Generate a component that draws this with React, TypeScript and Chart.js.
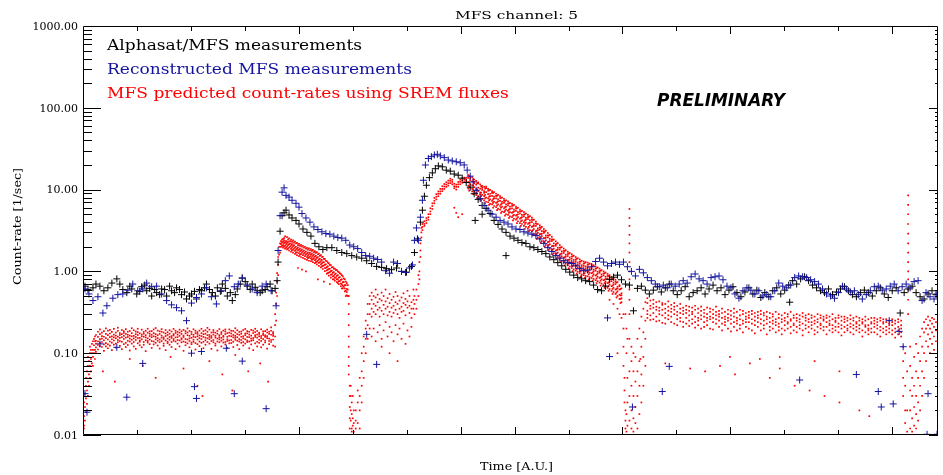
import { useEffect, useRef } from 'react';
import { Chart, registerables } from 'chart.js';

Chart.register(...registerables);

// ---------- text ----------
const titleText = 'MFS channel: 5';
const xTitle = 'Time [A.U.]';
const yTitle = 'Count-rate [1/sec]';
const legendLines = [
  'Alphasat/MFS measurements',
  'Reconstructed MFS measurements',
  'MFS predicted count-rates using SREM fluxes',
];
const stampText = 'PRELIMINARY';

// ---------- axes ----------
const xMin = 0;
const xMax = 859;
const xTickStep = 54.2;
const xTickCount = 15;
const xMajorTicks = [4, 7, 8, 10, 12, 15];
const yMin = 0.01;
const yMax = 1000;
const yDecades = [-2, -1, 0, 1, 2];

// ---------- Alphasat/MFS measurements [time, rate] ----------
const blackQuietEarly = [
  [2, 0.66], [5, 0.6], [10, 0.63], [13, 0.7], [17, 0.66], [21, 0.58], [25, 0.63], [29, 0.72], [34, 0.81], [37, 0.7],
  [40, 0.6], [44, 0.55], [47, 0.66], [49, 0.61], [54, 0.53], [57, 0.57], [59, 0.65], [62, 0.68], [64, 0.58], [67, 0.62],
  [69, 0.5], [72, 0.6], [74, 0.55], [77, 0.52], [79, 0.61], [82, 0.6], [84, 0.5], [87, 0.66], [89, 0.58], [92, 0.55],
  [94, 0.63], [97, 0.6], [99, 0.52], [102, 0.56], [104, 0.46], [107, 0.5], [109, 0.53], [112, 0.57], [114, 0.46], [117, 0.6],
  [119, 0.58], [122, 0.63], [124, 0.7], [127, 0.6], [130, 0.55], [133, 0.5], [135, 0.63], [138, 0.57], [140, 0.7], [143, 0.62],
  [145, 0.5], [148, 0.55], [150, 0.44], [153, 0.52], [155, 0.61], [158, 0.7], [160, 0.83], [163, 0.75], [165, 0.66], [168, 0.6],
  [170, 0.7], [173, 0.64], [175, 0.58], [178, 0.55], [180, 0.58], [183, 0.6], [185, 0.65], [188, 0.7], [190, 0.58], [193, 0.62],
  [195, 0.77],
];
const blackFirstEvent = [
  [196, 1.3], [198, 3.1], [200, 4.8], [202, 5.2], [204, 5.6], [207, 4.9], [210, 4.5], [214, 4.2], [217, 3.8], [221, 3.3],
  [225, 3.0], [229, 2.7], [233, 2.2], [237, 2.0], [241, 1.85], [245, 1.95], [250, 1.95], [255, 1.8], [260, 1.7], [265, 1.65],
  [270, 1.56], [275, 1.5], [280, 1.45], [285, 1.35], [290, 1.25], [295, 1.15], [300, 1.12], [305, 1.08], [310, 1.05], [315, 1.1],
  [320, 1.0], [325, 0.98], [330, 1.15],
];
const blackSecondEvent = [
  [333, 1.7], [336, 2.5], [339, 4.0], [341, 5.6], [343, 8.3], [345, 11.3], [348, 14], [351, 16], [354, 18], [357, 19.5],
  [361, 19], [365, 17.3], [369, 16.8], [373, 15.5], [377, 15], [381, 13.8], [385, 12.2], [389, 10.7], [393, 8.9], [397, 7.6],
  [401, 6.4], [405, 5.9], [409, 5.1], [413, 4.2], [417, 3.75], [421, 3.3], [425, 3.0], [429, 2.7], [433, 2.55], [437, 2.4],
  [441, 2.25], [445, 2.2], [449, 2.0], [453, 1.95], [457, 1.85], [461, 1.75], [465, 1.65], [469, 1.5], [473, 1.39], [477, 1.28],
  [481, 1.17], [485, 1.06], [489, 0.98], [493, 0.9], [497, 0.84], [501, 0.81], [505, 0.77], [509, 0.75], [513, 0.68], [517, 0.6],
  [521, 0.58], [525, 0.66], [529, 0.8], [533, 0.85], [537, 0.9], [541, 0.79], [545, 0.7], [549, 0.68], [553, 0.33], [557, 0.62],
  [394, 4.2], [401, 5.0], [425, 1.56],
];
const blackQuietLate = [
  [561, 0.66], [565, 0.59], [569, 0.53], [573, 0.59], [577, 0.65], [581, 0.56], [585, 0.63], [589, 0.7], [593, 0.58], [597, 0.52],
  [601, 0.58], [605, 0.65], [609, 0.49], [613, 0.55], [617, 0.58], [621, 0.63], [625, 0.53], [629, 0.61], [633, 0.68], [637, 0.58],
  [641, 0.63], [645, 0.52], [649, 0.59], [653, 0.65], [657, 0.55], [661, 0.49], [665, 0.56], [669, 0.63], [673, 0.53], [677, 0.59],
  [681, 0.48], [685, 0.55], [689, 0.49], [693, 0.58], [697, 0.63], [701, 0.53], [705, 0.59], [709, 0.68], [713, 0.77], [717, 0.7],
  [721, 0.81], [725, 0.86], [729, 0.77], [733, 0.68], [737, 0.63], [741, 0.58], [745, 0.55], [749, 0.61], [753, 0.52], [757, 0.56],
  [761, 0.61], [765, 0.65], [769, 0.58], [773, 0.52], [777, 0.49], [781, 0.55], [785, 0.59], [789, 0.55], [793, 0.5], [797, 0.58],
  [801, 0.63], [805, 0.53], [809, 0.48], [813, 0.58], [817, 0.63], [821, 0.31], [825, 0.55], [829, 0.61], [833, 0.66], [837, 0.55],
  [841, 0.49], [845, 0.46], [849, 0.53], [853, 0.58], [857, 0.52], [710, 0.42],
];

// ---------- Reconstructed MFS measurements [time, rate] ----------
const blueQuietEarly = [
  [2, 0.61], [6, 0.53], [10, 0.44], [15, 0.49], [20, 0.31], [24, 0.38], [30, 0.47], [35, 0.52], [40, 0.53], [45, 0.59],
  [50, 0.7], [55, 0.58], [60, 0.61], [64, 0.72], [69, 0.65], [74, 0.66], [79, 0.53], [84, 0.44], [89, 0.39], [94, 0.36],
  [99, 0.33], [104, 0.25], [109, 0.41], [114, 0.48], [119, 0.53], [124, 0.63], [129, 0.49], [134, 0.4], [139, 0.58], [143, 0.77],
  [147, 0.88], [152, 0.65], [156, 0.7], [160, 0.83], [165, 0.68], [170, 0.61], [175, 0.55], [180, 0.66], [184, 0.7], [189, 0.58],
  [194, 0.38],
  [4, 0.019], [2, 0.032], [17, 0.13], [34, 0.118], [44, 0.029], [60, 0.075], [109, 0.1], [112, 0.039], [114, 0.028], [119, 0.105],
  [144, 0.115], [152, 0.032], [160, 0.08], [184, 0.021],
];
const blueFirstEvent = [
  [196, 1.8], [198, 4.8], [200, 9.3], [202, 10.5], [204, 8.5], [207, 8.1], [210, 7.4], [214, 6.8], [217, 6.1], [220, 5.1],
  [224, 4.5], [228, 4.0], [232, 3.5], [236, 3.25], [240, 3.05], [244, 2.9], [248, 2.85], [252, 2.7], [256, 2.6], [260, 2.55],
  [264, 2.4], [268, 2.1], [272, 2.0], [276, 1.9], [280, 1.7], [284, 1.56], [288, 1.53], [292, 1.45], [296, 1.4], [300, 1.3],
  [304, 1.02], [308, 0.95], [312, 1.3], [316, 1.25], [320, 1.0], [324, 0.97], [328, 1.1], [331, 1.2], [333, 2.4], [335, 3.4],
  [285, 0.17], [295, 0.073],
];
const blueSecondEvent = [
  [337, 2.4], [339, 4.6], [341, 7.4], [342, 13], [344, 20], [347, 24], [350, 25.3], [353, 26.5], [356, 27], [359, 25.8],
  [363, 24.6], [367, 23], [371, 22.4], [375, 21.9], [379, 21.3], [383, 20], [386, 17.3], [389, 14.6], [392, 12.4], [395, 9.8],
  [399, 7.8], [403, 6.4], [407, 5.6], [411, 5.0], [415, 4.6], [419, 4.2], [423, 4.0], [427, 3.8], [431, 3.5], [435, 3.3],
  [439, 3.25], [443, 3.05], [447, 2.95], [451, 2.85], [455, 2.74], [459, 2.5], [463, 2.2], [467, 1.95], [471, 1.75], [475, 1.56],
  [479, 1.45], [483, 1.35], [487, 1.28], [491, 1.25], [495, 1.17], [499, 1.08], [503, 1.02], [507, 1.04], [511, 1.14], [515, 1.32],
  [519, 1.45], [523, 1.3], [527, 1.17], [531, 1.25], [535, 1.3], [539, 1.22], [543, 1.3], [547, 1.14], [551, 1.0], [555, 0.88],
  [527, 0.27], [529, 0.091], [552, 0.022],
];
const blueQuietLate = [
  [559, 1.06], [563, 0.96], [567, 0.84], [571, 0.77], [575, 0.7], [579, 0.65], [583, 0.68], [587, 0.63], [591, 0.7], [595, 0.66],
  [599, 0.7], [603, 0.77], [607, 0.72], [611, 0.86], [615, 0.93], [619, 0.81], [623, 0.77], [627, 0.7], [631, 0.84], [635, 0.86],
  [639, 0.88], [643, 0.79], [647, 0.66], [651, 0.63], [655, 0.53], [659, 0.47], [663, 0.58], [667, 0.63], [671, 0.59], [675, 0.53],
  [679, 0.58], [683, 0.5], [687, 0.52], [691, 0.49], [695, 0.58], [699, 0.72], [703, 0.66], [707, 0.63], [711, 0.68], [715, 0.84],
  [719, 0.88], [723, 0.86], [727, 0.84], [731, 0.79], [735, 0.75], [739, 0.7], [743, 0.61], [747, 0.53], [751, 0.5], [755, 0.47],
  [759, 0.55], [763, 0.66], [767, 0.61], [771, 0.56], [775, 0.58], [779, 0.52], [783, 0.46], [787, 0.52], [791, 0.58], [795, 0.65],
  [799, 0.66], [803, 0.59], [807, 0.61], [811, 0.66], [815, 0.7], [819, 0.58], [823, 0.65], [827, 0.7], [831, 0.63], [835, 0.75],
  [839, 0.77], [843, 0.44], [847, 0.55], [851, 0.49], [855, 0.46], [858, 0.53],
  [582, 0.034], [589, 0.069], [720, 0.047], [777, 0.055], [799, 0.034], [802, 0.022], [814, 0.024], [824, 0.12], [810, 0.25], [820, 0.185],
  [849, 0.032], [848, 0.0102], [858, 0.0102],
];

// ---------- MFS predicted count-rates (SREM): rows [time, rate, rate, ...] ----------
const redQuietEarly = [
  [0, 0.011, 0.014, 0.02], [1, 0.012, 0.017, 0.025, 0.013], [2, 0.015, 0.022, 0.032], [3, 0.019, 0.028, 0.04, 0.05],
  [4, 0.024, 0.035, 0.06], [5, 0.03, 0.045, 0.07, 0.09], [6, 0.04, 0.055, 0.08], [7, 0.05, 0.07, 0.1, 0.12],
  [8, 0.06, 0.085, 0.11], [9, 0.075, 0.1, 0.13], [10, 0.09, 0.11, 0.14, 0.07], [11, 0.1, 0.125, 0.15], [12, 0.11, 0.14, 0.16, 0.085],
  [13, 0.142, 0.118, 0.167, 0.131, 0.104], [15, 0.158, 0.126, 0.183, 0.139, 0.111], [17, 0.171, 0.134, 0.149, 0.196, 0.122],
  [19, 0.137, 0.162, 0.119, 0.178, 0.151], [21, 0.186, 0.144, 0.128, 0.159, 0.107], [23, 0.153, 0.172, 0.133, 0.201, 0.121],
  [25, 0.128, 0.166, 0.147, 0.189, 0.115], [27, 0.174, 0.139, 0.157, 0.124, 0.193], [29, 0.161, 0.182, 0.135, 0.148, 0.109],
  [31, 0.143, 0.169, 0.198, 0.127, 0.156], [33, 0.179, 0.152, 0.131, 0.164, 0.117], [35, 0.136, 0.188, 0.159, 0.145, 0.205],
  [37, 0.167, 0.141, 0.176, 0.123, 0.154], [39, 0.192, 0.157, 0.138, 0.171, 0.112], [41, 0.149, 0.177, 0.129, 0.163, 0.186],
  [43, 0.172, 0.134, 0.155, 0.197, 0.119], [45, 0.158, 0.183, 0.142, 0.126, 0.168], [47, 0.139, 0.164, 0.187, 0.151, 0.108],
  [49, 0.176, 0.146, 0.161, 0.202, 0.131], [51, 0.163, 0.191, 0.137, 0.152, 0.121], [53, 0.145, 0.171, 0.158, 0.184, 0.113],
  [55, 0.181, 0.153, 0.132, 0.167, 0.199], [57, 0.154, 0.138, 0.175, 0.143, 0.125], [59, 0.169, 0.194, 0.148, 0.161, 0.118],
  [61, 0.137, 0.159, 0.182, 0.127, 0.173], [63, 0.188, 0.166, 0.144, 0.156, 0.106], [65, 0.152, 0.178, 0.135, 0.199, 0.141],
  [67, 0.173, 0.147, 0.162, 0.129, 0.185], [69, 0.141, 0.186, 0.157, 0.168, 0.116], [71, 0.195, 0.161, 0.139, 0.176, 0.128],
  [73, 0.159, 0.134, 0.171, 0.148, 0.203], [75, 0.166, 0.189, 0.153, 0.124, 0.142], [77, 0.147, 0.172, 0.185, 0.136, 0.114],
  [79, 0.183, 0.155, 0.141, 0.164, 0.197], [81, 0.156, 0.179, 0.131, 0.149, 0.123], [83, 0.174, 0.143, 0.192, 0.162, 0.109],
  [85, 0.138, 0.167, 0.151, 0.181, 0.133], [87, 0.191, 0.158, 0.173, 0.127, 0.146], [89, 0.162, 0.184, 0.137, 0.154, 0.119],
  [91, 0.149, 0.171, 0.198, 0.142, 0.165], [93, 0.177, 0.139, 0.156, 0.188, 0.112], [95, 0.157, 0.182, 0.145, 0.169, 0.131],
  [97, 0.143, 0.163, 0.178, 0.121, 0.194], [99, 0.185, 0.152, 0.136, 0.172, 0.148], [101, 0.164, 0.193, 0.158, 0.139, 0.107],
  [103, 0.136, 0.175, 0.149, 0.186, 0.125], [105, 0.179, 0.147, 0.166, 0.132, 0.201], [107, 0.152, 0.187, 0.141, 0.163, 0.118],
  [109, 0.171, 0.135, 0.182, 0.154, 0.129], [111, 0.146, 0.168, 0.196, 0.138, 0.159], [113, 0.188, 0.157, 0.133, 0.176, 0.111],
  [115, 0.161, 0.181, 0.147, 0.129, 0.172], [117, 0.139, 0.165, 0.189, 0.153, 0.122], [119, 0.176, 0.149, 0.162, 0.199, 0.134],
  [121, 0.158, 0.186, 0.138, 0.171, 0.115], [123, 0.144, 0.173, 0.155, 0.191, 0.127], [125, 0.183, 0.152, 0.137, 0.166, 0.204],
  [127, 0.167, 0.194, 0.148, 0.131, 0.158], [129, 0.141, 0.162, 0.179, 0.154, 0.113], [131, 0.192, 0.145, 0.169, 0.136, 0.181],
  [133, 0.155, 0.178, 0.131, 0.163, 0.124], [135, 0.173, 0.139, 0.187, 0.151, 0.108], [137, 0.148, 0.166, 0.157, 0.197, 0.136],
  [139, 0.181, 0.154, 0.142, 0.172, 0.121], [141, 0.159, 0.189, 0.135, 0.163, 0.147], [143, 0.137, 0.171, 0.184, 0.128, 0.195],
  [145, 0.176, 0.148, 0.159, 0.141, 0.116], [147, 0.163, 0.195, 0.143, 0.178, 0.132], [149, 0.145, 0.161, 0.174, 0.133, 0.188],
  [151, 0.187, 0.156, 0.138, 0.167, 0.119], [153, 0.154, 0.179, 0.163, 0.146, 0.202], [155, 0.171, 0.142, 0.191, 0.126, 0.157],
  [157, 0.139, 0.168, 0.149, 0.182, 0.112], [159, 0.184, 0.159, 0.134, 0.173, 0.145], [161, 0.161, 0.192, 0.152, 0.137, 0.124],
  [163, 0.148, 0.174, 0.166, 0.198, 0.131], [165, 0.175, 0.137, 0.158, 0.143, 0.186], [167, 0.157, 0.183, 0.139, 0.169, 0.115],
  [169, 0.142, 0.164, 0.193, 0.151, 0.128], [171, 0.189, 0.153, 0.144, 0.176, 0.109], [173, 0.166, 0.181, 0.132, 0.158, 0.199],
  [175, 0.138, 0.169, 0.155, 0.187, 0.121], [177, 0.178, 0.146, 0.172, 0.134, 0.161], [179, 0.162, 0.196, 0.141, 0.153, 0.118],
  [181, 0.149, 0.167, 0.185, 0.127, 0.174], [183, 0.186, 0.158, 0.136, 0.165, 0.143], [185, 0.153, 0.179, 0.162, 0.194, 0.114],
  [187, 0.172, 0.141, 0.151, 0.183, 0.129], [189, 0.145, 0.188, 0.168, 0.137, 0.207], [191, 0.181, 0.163, 0.147, 0.172, 0.124],
];
const redFirstEvent = [
  [193, 0.16, 0.22, 0.3, 0.12], [194, 0.4, 0.55, 0.25], [195, 0.75, 0.95, 0.5], [196, 1.2, 1.5, 0.9],
  [197, 1.8, 1.6, 2.0], [198, 2.2, 2.0, 1.7], [199, 2.35, 2.15, 2.0], [200, 2.45, 2.25, 2.05], [201, 2.5, 2.3, 2.1, 1.95],
  [202, 2.4, 2.2, 2.0, 2.55], [204, 2.35, 2.15, 1.95], [206, 2.3, 2.1, 2.45, 1.9], [208, 2.2, 2.0, 2.35],
  [210, 2.15, 1.95, 1.8, 2.3], [212, 2.1, 1.9, 2.25], [214, 2.0, 1.85, 2.2, 1.7], [216, 1.95, 1.8, 2.1, 1.1],
  [218, 1.9, 1.75, 2.05, 1.6], [220, 1.85, 1.7, 2.0, 1.05], [222, 1.8, 1.65, 1.95], [224, 1.75, 1.6, 1.9, 1.0],
  [226, 1.7, 1.55, 1.85, 1.45], [228, 1.68, 1.52, 1.8], [230, 1.65, 1.5, 1.78, 1.38], [232, 1.6, 1.45, 1.72],
  [234, 1.55, 1.4, 1.68, 1.3], [236, 1.5, 1.35, 1.62, 0.8], [238, 1.42, 1.3, 1.55], [240, 1.38, 1.25, 1.5, 1.15],
  [242, 1.3, 1.18, 1.42, 0.75], [244, 1.22, 1.1, 1.35], [246, 1.15, 1.05, 1.28, 0.95], [248, 1.08, 0.98, 1.2, 0.7],
  [250, 1.02, 0.92, 1.12], [252, 0.98, 0.88, 1.08, 0.8], [254, 0.94, 0.84, 1.04], [256, 0.9, 0.8, 1.0, 0.72],
  [258, 0.85, 0.76, 0.95], [260, 0.8, 0.7, 0.9, 0.62], [262, 0.74, 0.65, 0.82], [264, 0.68, 0.58, 0.75, 0.5],
  [266, 0.6, 0.5, 0.68],
];
const redFirstEventFill = [
  [203, 1.9, 2.06, 2.28, 2.68], [205, 1.86, 2.02, 2.23, 2.62], [207, 1.8, 1.96, 2.16, 2.54], [209, 1.74, 1.89, 2.08, 2.45],
  [211, 1.7, 1.84, 2.04, 2.4], [213, 1.64, 1.78, 1.97, 2.32], [215, 1.58, 1.71, 1.89, 2.23], [217, 1.54, 1.67, 1.84, 2.17],
  [219, 1.5, 1.63, 1.8, 2.11], [221, 1.46, 1.58, 1.75, 2.06], [223, 1.42, 1.54, 1.7, 2.0], [225, 1.38, 1.5, 1.65, 1.94],
  [227, 1.35, 1.47, 1.62, 1.91], [229, 1.33, 1.44, 1.59, 1.88], [231, 1.3, 1.41, 1.56, 1.83], [233, 1.26, 1.37, 1.51, 1.77],
  [235, 1.22, 1.32, 1.46, 1.72], [237, 1.17, 1.27, 1.4, 1.65], [239, 1.12, 1.22, 1.34, 1.58], [241, 1.07, 1.17, 1.29, 1.51],
  [243, 1.01, 1.1, 1.21, 1.42], [245, 0.94, 1.03, 1.13, 1.33], [247, 0.89, 0.97, 1.07, 1.25], [249, 0.84, 0.91, 1.01, 1.19],
  [251, 0.8, 0.87, 0.96, 1.13], [253, 0.77, 0.84, 0.92, 1.08], [255, 0.74, 0.8, 0.88, 1.04], [257, 0.7, 0.76, 0.84, 0.98],
  [259, 0.66, 0.71, 0.79, 0.93], [261, 0.62, 0.67, 0.74, 0.87], [263, 0.57, 0.62, 0.68, 0.8], [265, 0.51, 0.56, 0.61, 0.72],
];
const redFirstGap = [
  [267, 0.5, 0.4, 0.3, 0.22, 0.16, 0.12, 0.09, 0.07, 0.055], [268, 0.04, 0.03, 0.022, 0.016, 0.012],
  [269, 0.04, 0.03, 0.02, 0.015], [270, 0.012, 0.011, 0.018, 0.025], [271, 0.013, 0.016, 0.03], [272, 0.011, 0.014, 0.02],
  [274, 0.012, 0.02, 0.015], [276, 0.014, 0.025, 0.035], [278, 0.02, 0.03, 0.05, 0.012], [280, 0.04, 0.06, 0.025, 0.1],
  [282, 0.08, 0.12, 0.05, 0.16], [284, 0.15, 0.2, 0.1, 0.25], [286, 0.22, 0.3, 0.15, 0.4], [288, 0.3, 0.4, 0.2, 0.5],
  [290, 0.35, 0.45, 0.28, 0.55, 0.16], [292, 0.4, 0.32, 0.5, 0.2], [294, 0.38, 0.48, 0.3, 0.6, 0.14],
  [296, 0.42, 0.34, 0.52, 0.18], [298, 0.36, 0.46, 0.28, 0.22], [300, 0.44, 0.33, 0.55, 0.15, 0.12],
  [302, 0.39, 0.5, 0.3, 0.19], [304, 0.43, 0.35, 0.6, 0.24], [306, 0.37, 0.47, 0.29, 0.16],
  [308, 0.41, 0.32, 0.53, 0.21, 0.1], [310, 0.45, 0.36, 0.28, 0.18], [312, 0.38, 0.49, 0.31, 0.14],
  [314, 0.42, 0.34, 0.56, 0.22], [316, 0.4, 0.3, 0.5, 0.17, 0.08], [318, 0.44, 0.35, 0.27, 0.2],
  [320, 0.37, 0.48, 0.32, 0.15], [322, 0.41, 0.33, 0.54, 0.23], [324, 0.39, 0.46, 0.29, 0.13],
  [326, 0.43, 0.36, 0.58, 0.19], [328, 0.38, 0.31, 0.5, 0.16], [330, 0.42, 0.35, 0.27, 0.21], [332, 0.45, 0.6, 0.35],
];
const redSecondRise = [
  [333, 0.3, 0.4, 0.5], [335, 0.45, 0.6, 0.35], [337, 0.5, 0.7, 0.9], [338, 1.0, 1.3, 0.8], [339, 1.5, 1.8, 2.2],
  [340, 2.6, 3.0, 3.4], [341, 3.5, 3.8, 3.2], [343, 3.8, 4.1, 3.6], [345, 4.2, 4.5, 3.9], [347, 4.6, 5.0, 4.3],
  [349, 5.4, 5.9, 5.0], [351, 6.3, 6.8, 5.8], [353, 7.3, 7.9, 6.8], [355, 8.2, 8.8, 7.6], [357, 8.9, 9.5, 8.3],
  [359, 9.5, 10.2, 8.9], [361, 10.2, 11.0, 9.6], [363, 10.9, 11.7, 10.2], [365, 11.5, 12.3, 10.8], [367, 12.0, 12.9, 11.2],
  [369, 12.8, 13.6, 12.0], [371, 12.4, 11.6, 13.2], [373, 11.0, 10.4, 11.8, 6.0], [375, 10.8, 10.0, 11.5, 5.2],
  [377, 11.6, 10.8, 12.4, 4.6], [379, 12.4, 11.6, 13.2], [381, 12.9, 12.1, 13.8, 5.0], [383, 13.2, 12.4, 14.0],
  [385, 13.1, 12.3, 13.9],
];
const redSecondDecay = [
  [387, 13.9, 11.2, 15.1, 12.4, 10.3], [389, 12.9, 10.6, 14.3, 11.7, 13.6], [391, 10.2, 12.6, 11.3, 14.1, 9.5],
  [393, 11.9, 9.4, 13.3, 10.7, 12.4], [395, 9.1, 11.5, 12.8, 10.1, 8.6], [397, 10.6, 8.3, 11.9, 9.6, 12.3],
  [399, 8.1, 10.3, 9.2, 11.6, 8.8], [401, 9.9, 7.7, 11.1, 8.6, 10.5], [403, 7.4, 9.6, 10.8, 8.3, 9.1],
  [405, 9.3, 7.1, 10.4, 8.0, 10.9], [407, 7.0, 8.8, 9.7, 7.8, 10.2], [409, 8.9, 6.7, 9.9, 7.6, 8.3],
  [411, 6.6, 8.4, 9.6, 7.3, 9.1], [413, 8.2, 6.3, 9.3, 7.1, 7.8], [415, 6.1, 7.8, 8.9, 6.9, 8.4],
  [417, 7.6, 5.8, 8.6, 6.6, 7.2], [419, 5.7, 7.3, 8.3, 6.3, 7.9], [421, 7.1, 5.4, 8.0, 6.2, 6.8],
  [423, 5.3, 6.9, 7.7, 5.9, 7.3], [425, 6.6, 5.0, 7.4, 5.7, 6.2], [427, 4.9, 6.4, 7.2, 5.5, 6.8],
  [429, 6.2, 4.7, 6.9, 5.3, 5.8], [431, 4.6, 5.9, 6.7, 5.2, 6.3], [433, 5.7, 4.4, 6.5, 4.9, 5.4],
  [435, 4.3, 5.5, 6.2, 4.8, 5.9], [437, 5.3, 4.1, 6.0, 4.6, 5.0], [439, 3.9, 5.1, 5.7, 4.4, 5.4],
  [441, 4.9, 3.8, 5.5, 4.2, 4.6], [443, 3.6, 4.7, 5.3, 4.0, 4.95], [445, 4.5, 3.5, 5.1, 3.95, 4.3],
  [447, 3.35, 4.35, 4.9, 3.8, 4.6], [449, 4.2, 3.2, 4.75, 3.65, 3.95], [451, 3.1, 4.0, 4.55, 3.5, 4.3],
  [453, 3.8, 2.9, 4.3, 3.3, 3.6], [455, 2.75, 3.6, 4.05, 3.1, 3.85], [457, 3.35, 2.6, 3.8, 2.95, 3.2],
  [459, 2.5, 3.25, 3.65, 2.85, 3.45], [461, 3.1, 2.35, 3.5, 2.7, 2.9], [463, 2.25, 2.95, 3.3, 2.55, 3.1],
  [465, 2.75, 2.1, 3.15, 2.4, 2.6], [467, 2.0, 2.6, 2.95, 2.28, 2.75], [469, 2.5, 1.9, 2.8, 2.15, 2.35],
  [471, 1.8, 2.35, 2.65, 2.03, 2.45], [473, 2.2, 1.67, 2.45, 1.9, 2.05], [475, 1.6, 2.06, 2.33, 1.8, 2.15],
  [477, 1.95, 1.5, 2.22, 1.7, 1.85], [479, 1.42, 1.85, 2.1, 1.6, 1.95], [481, 1.76, 1.35, 1.98, 1.53, 1.66],
  [483, 1.3, 1.68, 1.9, 1.47, 1.78], [485, 1.6, 1.24, 1.82, 1.4, 1.52], [487, 1.19, 1.54, 1.74, 1.35, 1.63],
  [489, 1.48, 1.15, 1.68, 1.3, 1.4], [491, 1.1, 1.43, 1.62, 1.25, 1.52], [493, 1.38, 1.06, 1.56, 1.2, 1.3],
  [495, 1.02, 1.33, 1.5, 1.16, 1.4], [497, 1.28, 0.99, 1.45, 1.12, 1.21], [499, 0.95, 1.24, 1.4, 1.08, 1.31],
  [501, 1.19, 0.92, 1.35, 1.04, 1.13], [503, 0.9, 1.17, 1.32, 1.02, 1.24], [505, 1.15, 0.88, 1.3, 1.0, 1.09],
  [507, 0.87, 1.13, 1.28, 0.98, 1.2], [509, 1.1, 0.85, 1.25, 0.96, 1.05], [511, 0.83, 1.09, 1.22, 0.95, 1.15],
  [513, 1.05, 0.81, 1.19, 0.92, 1.0], [515, 0.78, 1.02, 1.15, 0.89, 1.08], [517, 0.99, 0.76, 1.12, 0.86, 0.94],
  [519, 0.73, 0.96, 1.08, 0.83, 1.01], [521, 0.92, 0.71, 1.04, 0.8, 0.87], [523, 0.68, 0.89, 1.0, 0.78, 0.94],
  [525, 0.86, 0.66, 0.97, 0.75, 0.81], [527, 0.63, 0.82, 0.93, 0.72, 0.88], [529, 0.79, 0.61, 0.9, 0.69, 0.75],
  [531, 0.58, 0.76, 0.86, 0.66, 0.81], [533, 0.73, 0.56, 0.82, 0.63, 0.69], [535, 0.53, 0.7, 0.79, 0.6, 0.75],
  [537, 0.65, 0.5, 0.74, 0.57, 0.62], [539, 0.46, 0.6, 0.68, 0.52, 0.66], [541, 0.54, 0.42, 0.62, 0.47, 0.51],
  [529, 0.45], [533, 0.4], [537, 0.35], [539, 0.3], [541, 0.27],
];
const redSecondDecayFill = [
  [388, 11.0, 12.2, 14.6, 9.7], [392, 10.1, 11.1, 13.3, 8.8], [396, 9.0, 10.0, 12.0, 7.9], [400, 8.3, 9.2, 11.0, 7.3],
  [404, 7.8, 8.6, 10.3, 6.8], [408, 7.4, 8.2, 9.8, 6.5], [412, 6.9, 7.6, 9.1, 6.0], [416, 6.4, 7.0, 8.4, 5.6],
  [420, 6.0, 6.6, 7.9, 5.2], [424, 5.5, 6.1, 7.3, 4.8], [428, 5.2, 5.7, 6.8, 4.5], [432, 4.8, 5.3, 6.4, 4.2],
  [436, 4.45, 4.9, 5.9, 3.9], [440, 4.1, 4.5, 5.4, 3.6], [444, 3.8, 4.2, 5.0, 3.3], [448, 3.5, 3.9, 4.65, 3.1],
  [452, 3.2, 3.55, 4.25, 2.8], [456, 2.85, 3.15, 3.8, 2.5], [460, 2.6, 2.85, 3.4, 2.25], [464, 2.3, 2.55, 3.05, 2.0],
  [468, 2.1, 2.3, 2.75, 1.83], [472, 1.85, 2.05, 2.45, 1.62], [476, 1.65, 1.82, 2.18, 1.44], [480, 1.48, 1.63, 1.96, 1.3],
  [484, 1.34, 1.49, 1.78, 1.18], [488, 1.25, 1.38, 1.65, 1.09], [492, 1.16, 1.28, 1.53, 1.01], [496, 1.07, 1.18, 1.42, 0.94],
  [500, 1.0, 1.1, 1.32, 0.87], [504, 0.95, 1.05, 1.26, 0.83], [508, 0.92, 1.01, 1.22, 0.8], [512, 0.88, 0.97, 1.16, 0.77],
  [516, 0.82, 0.91, 1.09, 0.72], [520, 0.77, 0.85, 1.02, 0.67], [524, 0.72, 0.79, 0.95, 0.63], [528, 0.66, 0.73, 0.88, 0.58],
  [532, 0.61, 0.67, 0.81, 0.53], [536, 0.55, 0.61, 0.73, 0.48], [540, 0.46, 0.51, 0.61, 0.41],
];
const redSecondGap = [
  [543, 0.3, 0.2, 0.12, 0.07], [544, 0.05, 0.035, 0.025], [545, 0.02, 0.015, 0.012, 0.3], [546, 0.011, 0.018, 0.2, 0.1],
  [547, 0.013, 0.025, 0.05, 0.15],
  [549, 5.8, 4.5, 3.6, 2.8, 2.2, 1.7, 1.3, 1.0, 0.8, 0.6, 0.45, 0.3, 0.15, 0.06, 0.03, 0.015],
  [551, 0.012, 0.02, 0.04, 0.08, 0.12], [553, 0.011, 0.016, 0.03, 0.06, 0.1], [555, 0.014, 0.022, 0.045, 0.09],
  [557, 0.012, 0.03, 0.06, 0.15], [559, 0.018, 0.04, 0.08, 0.2], [561, 0.025, 0.055, 0.12, 0.28],
  [563, 0.04, 0.09, 0.18, 0.35], [565, 0.07, 0.15, 0.25, 0.42],
];
const redQuietLate = [
  [567, 0.47, 0.33, 0.41, 0.27, 0.3], [570, 0.38, 0.44, 0.29, 0.35, 0.255], [573, 0.31, 0.45, 0.36, 0.26, 0.4],
  [576, 0.42, 0.28, 0.34, 0.37, 0.245], [579, 0.36, 0.3, 0.43, 0.25, 0.33], [582, 0.29, 0.39, 0.34, 0.41, 0.235],
  [585, 0.4, 0.27, 0.35, 0.31, 0.23], [588, 0.33, 0.37, 0.26, 0.43, 0.29], [591, 0.28, 0.35, 0.39, 0.24, 0.32],
  [594, 0.37, 0.3, 0.23, 0.34, 0.41], [597, 0.32, 0.26, 0.38, 0.29, 0.22], [600, 0.35, 0.4, 0.27, 0.31, 0.245],
  [603, 0.3, 0.24, 0.36, 0.33, 0.21], [606, 0.27, 0.38, 0.31, 0.23, 0.34], [609, 0.33, 0.29, 0.25, 0.37, 0.215],
  [612, 0.36, 0.26, 0.3, 0.23, 0.32], [615, 0.28, 0.34, 0.24, 0.38, 0.205], [618, 0.31, 0.22, 0.35, 0.27, 0.25],
  [621, 0.26, 0.33, 0.29, 0.2, 0.37], [624, 0.34, 0.24, 0.28, 0.31, 0.21], [627, 0.27, 0.36, 0.22, 0.3, 0.25],
  [630, 0.32, 0.26, 0.35, 0.2, 0.28], [633, 0.24, 0.3, 0.27, 0.34, 0.195], [636, 0.29, 0.37, 0.23, 0.26, 0.32],
  [639, 0.33, 0.25, 0.21, 0.28, 0.3], [642, 0.27, 0.23, 0.35, 0.19, 0.31], [645, 0.26, 0.32, 0.28, 0.22, 0.24],
  [648, 0.3, 0.2, 0.34, 0.25, 0.27], [651, 0.23, 0.29, 0.26, 0.33, 0.185], [654, 0.31, 0.24, 0.21, 0.28, 0.35],
  [657, 0.27, 0.32, 0.19, 0.25, 0.23], [660, 0.22, 0.29, 0.34, 0.26, 0.2], [663, 0.3, 0.25, 0.23, 0.33, 0.18],
  [666, 0.26, 0.21, 0.31, 0.28, 0.24], [669, 0.24, 0.32, 0.2, 0.27, 0.29], [672, 0.33, 0.23, 0.26, 0.19, 0.3],
  [675, 0.28, 0.22, 0.31, 0.25, 0.175], [678, 0.21, 0.27, 0.24, 0.32, 0.29], [681, 0.26, 0.3, 0.19, 0.23, 0.33],
  [684, 0.29, 0.2, 0.25, 0.31, 0.22], [687, 0.23, 0.28, 0.32, 0.17, 0.26], [690, 0.31, 0.24, 0.21, 0.27, 0.19],
  [693, 0.25, 0.2, 0.3, 0.23, 0.28], [696, 0.22, 0.32, 0.26, 0.18, 0.24], [699, 0.27, 0.23, 0.19, 0.3, 0.21],
  [702, 0.2, 0.26, 0.29, 0.24, 0.17], [705, 0.31, 0.22, 0.25, 0.19, 0.27], [708, 0.24, 0.28, 0.2, 0.3, 0.23],
  [711, 0.21, 0.26, 0.32, 0.175, 0.25], [714, 0.29, 0.19, 0.23, 0.27, 0.22], [717, 0.25, 0.3, 0.21, 0.18, 0.27],
  [720, 0.22, 0.24, 0.29, 0.2, 0.26], [723, 0.28, 0.19, 0.23, 0.31, 0.165], [726, 0.2, 0.27, 0.25, 0.22, 0.29],
  [729, 0.24, 0.3, 0.18, 0.26, 0.21], [732, 0.27, 0.22, 0.2, 0.29, 0.24], [735, 0.19, 0.25, 0.28, 0.23, 0.17],
  [738, 0.3, 0.21, 0.26, 0.18, 0.24], [741, 0.23, 0.27, 0.2, 0.29, 0.22], [744, 0.25, 0.19, 0.28, 0.21, 0.26],
  [747, 0.21, 0.29, 0.24, 0.17, 0.27], [750, 0.28, 0.22, 0.19, 0.25, 0.23], [753, 0.2, 0.26, 0.3, 0.22, 0.18],
  [756, 0.24, 0.21, 0.27, 0.19, 0.25], [759, 0.27, 0.18, 0.23, 0.29, 0.21], [762, 0.22, 0.25, 0.2, 0.28, 0.165],
  [765, 0.26, 0.21, 0.24, 0.18, 0.28], [768, 0.19, 0.27, 0.22, 0.25, 0.2], [771, 0.23, 0.29, 0.18, 0.21, 0.26],
  [774, 0.27, 0.2, 0.25, 0.17, 0.22], [777, 0.21, 0.24, 0.28, 0.19, 0.23], [780, 0.25, 0.18, 0.22, 0.27, 0.2],
  [783, 0.19, 0.26, 0.23, 0.16, 0.24], [786, 0.28, 0.21, 0.18, 0.25, 0.22], [789, 0.22, 0.19, 0.26, 0.2, 0.17],
  [792, 0.24, 0.27, 0.2, 0.23, 0.18], [795, 0.18, 0.23, 0.25, 0.21, 0.27], [798, 0.26, 0.2, 0.17, 0.24, 0.22],
  [801, 0.21, 0.25, 0.19, 0.27, 0.16], [804, 0.23, 0.18, 0.26, 0.2, 0.24], [807, 0.19, 0.24, 0.21, 0.17, 0.26],
  [810, 0.25, 0.2, 0.23, 0.18, 0.22], [813, 0.22, 0.26, 0.17, 0.24, 0.19], [816, 0.18, 0.23, 0.25, 0.2, 0.155],
  [819, 0.24, 0.19, 0.21, 0.26, 0.17], [822, 0.2, 0.22, 0.18, 0.25, 0.16],
];
const redLateGap = [
  [824, 0.12, 0.08, 0.05, 0.03], [826, 0.02, 0.014, 0.04, 0.1], [828, 0.011, 0.02, 0.06],
  [829, 8.5, 6.5, 5.0, 3.8, 2.9, 2.2, 1.7, 1.3, 1.0, 0.8, 0.6, 0.45, 0.3],
  [831, 0.012, 0.02, 0.035, 0.07, 0.12], [833, 0.011, 0.016, 0.03, 0.05], [835, 0.013, 0.022, 0.04, 0.09],
  [837, 0.012, 0.018, 0.03, 0.06, 0.13], [839, 0.015, 0.025, 0.05, 0.1], [841, 0.02, 0.04, 0.08, 0.16],
  [843, 0.03, 0.06, 0.12, 0.2], [845, 0.05, 0.1, 0.18, 0.24], [847, 0.08, 0.14, 0.2, 0.26], [849, 0.12, 0.17, 0.22, 0.28],
  [851, 0.1, 0.15, 0.2, 0.25], [853, 0.13, 0.18, 0.23, 0.27], [855, 0.11, 0.16, 0.21, 0.26], [857, 0.14, 0.19, 0.24],
];
const redSparse = [
  [20, 0.06], [32, 0.045], [47, 0.085], [60, 0.07], [73, 0.05], [88, 0.09], [101, 0.065], [115, 0.04], [120, 0.03], [127, 0.08],
  [140, 0.055], [150, 0.035], [153, 0.095], [166, 0.06], [178, 0.075], [186, 0.045],
  [537, 0.1], [560, 0.085], [585, 0.075], [610, 0.065], [625, 0.06], [640, 0.07], [650, 0.09], [655, 0.055], [670, 0.075],
  [680, 0.085], [690, 0.05], [700, 0.065], [700, 0.09], [715, 0.04], [730, 0.035], [735, 0.08], [745, 0.03], [760, 0.025],
  [760, 0.06], [780, 0.02], [790, 0.017],
];

const BLACK = '#000000';
const BLUE = '#1414a0';
const RED = '#ff0000';
const SERIF = '"DejaVu Serif", serif';

const toPairs = (rows: number[][]) => rows.flatMap((r) => r.slice(1).map((v) => [r[0], v]));

function drawStretched(ctx: CanvasRenderingContext2D, text: string, x: number, y: number, sx: number, font: string, color: string) {
  ctx.save();
  ctx.font = font;
  ctx.fillStyle = color;
  ctx.textAlign = 'left';
  ctx.textBaseline = 'alphabetic';
  ctx.translate(x, y);
  ctx.scale(sx, 1);
  ctx.fillText(text, 0, 0);
  ctx.restore();
}

function fitScale(ctx: CanvasRenderingContext2D, text: string, font: string, width: number) {
  ctx.save();
  ctx.font = font;
  const w = ctx.measureText(text).width;
  ctx.restore();
  return width / w;
}

const framePlugin = {
  id: 'idlFrame',
  afterDatasetsDraw(chart: any) {
    const { ctx, chartArea: a, scales } = chart;
    const xs = scales.x;
    const ys = scales.y;
    ctx.save();
    ctx.strokeStyle = BLACK;
    ctx.lineWidth = 1;
    ctx.beginPath();
    ctx.rect(a.left + 0.5, a.top + 0.5, a.right - a.left - 1, a.bottom - a.top - 1);
    ctx.stroke();
    ctx.beginPath();
    for (let k = 1; k <= xTickCount; k++) {
      const px = Math.round(xs.getPixelForValue(k * xTickStep)) + 0.5;
      if (px >= a.right - 1) continue;
      const len = xMajorTicks.includes(k) ? 8 : 5;
      ctx.moveTo(px, a.bottom);
      ctx.lineTo(px, a.bottom - len);
      ctx.moveTo(px, a.top);
      ctx.lineTo(px, a.top + len);
    }
    for (const e of yDecades) {
      for (let m = 1; m <= 9; m++) {
        const v = m * Math.pow(10, e);
        const py = Math.round(ys.getPixelForValue(v)) + 0.5;
        const lenL = m === 1 ? 18 : 9;
        const lenR = m === 1 ? 9 : 3;
        ctx.moveTo(a.left, py);
        ctx.lineTo(a.left + lenL, py);
        ctx.moveTo(a.right, py);
        ctx.lineTo(a.right - lenR, py);
      }
    }
    ctx.stroke();
    ctx.restore();
  },
  afterDraw(chart: any) {
    const ctx: CanvasRenderingContext2D = chart.ctx;
    const tFont = `11px ${SERIF}`;
    drawStretched(ctx, titleText, 455, 19, fitScale(ctx, titleText, tFont, 123), tFont, BLACK);
    const xFont = `11.5px ${SERIF}`;
    drawStretched(ctx, xTitle, 480, 470, fitScale(ctx, xTitle, xFont, 73), xFont, BLACK);
    const yFont = `11px ${SERIF}`;
    ctx.save();
    ctx.translate(21, 285);
    ctx.rotate(-Math.PI / 2);
    drawStretched(ctx, yTitle, 0, 0, fitScale(ctx, yTitle, yFont, 117), yFont, BLACK);
    ctx.restore();
    const lFont = `14px ${SERIF}`;
    const ls = fitScale(ctx, legendLines[0], lFont, 255);
    const colors = [BLACK, BLUE, RED];
    const bases = [50, 74, 98];
    legendLines.forEach((t, i) => drawStretched(ctx, t, 107, bases[i], ls, lFont, colors[i]));
    const pFont = 'italic bold 17px "DejaVu Sans", sans-serif';
    drawStretched(ctx, stampText, 657, 106, fitScale(ctx, stampText, pFont, 128), pFont, BLACK);
  },
};

export default function App() {
  const ref = useRef<HTMLCanvasElement | null>(null);
  useEffect(() => {
    if (!ref.current) return;
    const blackAll = [...blackQuietEarly, ...blackFirstEvent, ...blackSecondEvent, ...blackQuietLate];
    const blueAll = [...blueQuietEarly, ...blueFirstEvent, ...blueSecondEvent, ...blueQuietLate];
    const redAll = [
      ...toPairs(redQuietEarly), ...toPairs(redFirstEvent), ...toPairs(redFirstEventFill), ...toPairs(redFirstGap),
      ...toPairs(redSecondRise), ...toPairs(redSecondDecay), ...toPairs(redSecondDecayFill), ...toPairs(redSecondGap),
      ...toPairs(redQuietLate), ...toPairs(redLateGap), ...redSparse,
    ];
    const chart = new Chart(ref.current, {
      type: 'scatter',
      data: {
        datasets: [
          { label: legendLines[1], data: blueAll as any, pointStyle: 'cross', pointRadius: 3.5, borderColor: BLUE, backgroundColor: BLUE, borderWidth: 1 },
          { label: legendLines[0], data: blackAll as any, pointStyle: 'cross', pointRadius: 3.5, borderColor: BLACK, backgroundColor: BLACK, borderWidth: 1 },
          { label: legendLines[2], data: redAll as any, pointStyle: 'rect', pointRadius: 1.2, backgroundColor: RED, borderColor: RED, borderWidth: 0 },
        ],
      },
      options: {
        animation: false,
        responsive: false,
        events: [],
        layout: { padding: { top: 26, right: 1, left: 0, bottom: 0 } },
        plugins: { legend: { display: false }, tooltip: { enabled: false }, title: { display: false } },
        scales: {
          x: {
            type: 'linear', min: xMin, max: xMax,
            ticks: { display: false },
            grid: { display: false, drawTicks: false },
            border: { display: false },
            afterFit: (s: any) => { s.height = 40; },
          },
          y: {
            type: 'logarithmic', min: yMin, max: yMax,
            ticks: {
              autoSkip: false, color: BLACK, padding: 5, labelOffset: 1,
              font: { family: SERIF, size: 11 },
              callback: (v: any) => {
                const l = Math.log10(Number(v));
                return Math.abs(l - Math.round(l)) < 1e-6 ? Number(v).toFixed(2) : '';
              },
            },
            grid: { display: false, drawTicks: false },
            border: { display: false },
            afterFit: (s: any) => { s.width = 83; },
          },
        },
      } as any,
      plugins: [framePlugin],
    });
    return () => chart.destroy();
  }, []);
  return (
    <div style={{ position: 'fixed', left: 0, top: 0, width: 943, height: 475, background: '#fff' }}>
      <canvas ref={ref} width={943} height={475} style={{ width: 943, height: 475 }} />
    </div>
  );
}
